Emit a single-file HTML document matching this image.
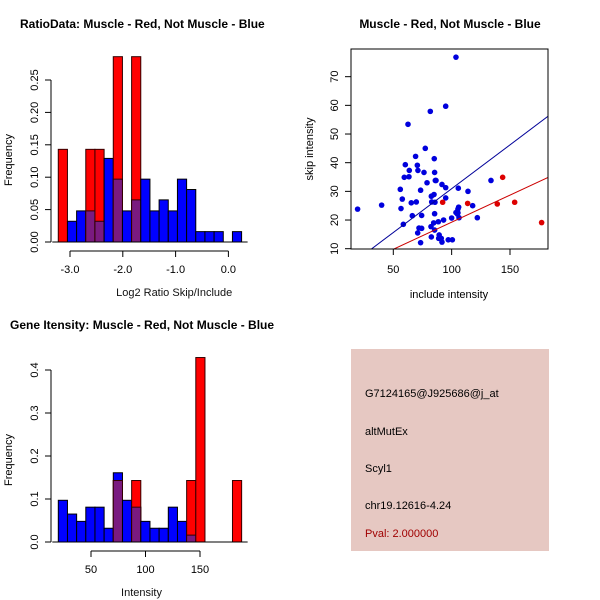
<!DOCTYPE html>
<html><head><meta charset="utf-8"><style>
html,body{margin:0;padding:0;background:#fff;}
svg{display:block;font-family:"Liberation Sans",sans-serif;}
</style></head><body>
<svg id="c" width="600" height="600" xmlns="http://www.w3.org/2000/svg">
<rect x="351" y="349" width="198" height="202" fill="#e6c8c2"/>
<text x="365" y="397" font-size="11">G7124165@J925686@j_at</text>
<text x="365" y="435" font-size="11">altMutEx</text>
<text x="365" y="472" font-size="11">Scyl1</text>
<text x="365" y="509" font-size="11">chr19.12616-4.24</text>
<text x="365" y="537" font-size="11" fill="#a00000">Pval: 2.000000</text>
</svg>
<script>
// Histogram 1 data (ratio)
const h1Start=-3.222, h1Width=0.1736;
const h1Blue=[0,0.032,0.048,0.048,0.032,0.129,0.097,0.048,0.065,0.097,0.048,0.065,0.048,0.097,0.081,0.016,0.016,0.016,0,0.016];
const h1Red=[0.143,0,0,0.143,0.143,0,0.286,0,0.286,0,0,0,0,0,0,0,0,0,0,0];
const h1XTicks=[-3.0,-2.0,-1.0,0.0];
const h1XLabels=["-3.0","-2.0","-1.0","0.0"];
const h1YTicks=[0,0.05,0.10,0.15,0.20,0.25];
const h1YLabels=["0.00","0.05","0.10","0.15","0.20","0.25"];
// Histogram 3 data (intensity)
const h3Start=20, h3Width=8.41;
const h3Blue=[0.097,0.065,0.048,0.081,0.081,0.032,0.161,0.097,0.081,0.048,0.032,0.032,0.081,0.048,0.016,0,0,0,0,0];
const h3Red=[0,0,0,0,0,0,0.143,0,0.143,0,0,0,0,0,0.143,0.429,0,0,0,0.143];
const h3XTicks=[50,100,150];
const h3YTicks=[0,0.1,0.2,0.3,0.4];
const h3YLabels=["0.0","0.1","0.2","0.3","0.4"];
// Scatter data
const blueX=[19.4,40,103.7,94.9,81.7,62.6,77.4,69.1,85.1,60.3,70.6,63.7,71.1,76.3,85.4,59.4,63.4,78.9,91.7,94.9,56,73.4,114,105.7,133.7,86,86.6,94.9,82.6,84.9,57.7,85.7,65.4,69.7,82.9,106,118,122,105.4,105.4,104.9,103.7,56.6,85.4,66.3,74.3,100,106.3,93.1,88.6,84.6,58.6,82.3,72,74.3,85.4,70.9,89.3,82.6,88.9,97.1,91.1,100.6,91.7,73.4];
const blueY=[23.8,25.2,76.8,59.7,57.9,53.4,45,42.2,41.4,39.3,39.1,37.3,37.3,36.6,36.6,34.9,35.1,33,32.4,31.3,30.7,30.4,30,31.1,33.8,33.8,33.8,27.7,28.3,28.9,27.3,26.2,26,26.3,26.3,24.5,25,20.8,23.8,22.5,22.1,22.6,24,22.2,21.5,21.6,20.7,20.8,20,19.4,19,18.5,17.7,17.2,17.1,16.5,15.5,14.8,14.1,13.6,13.1,13.6,13.1,12.3,12.1];
const redX=[92.3,113.7,139.1,154,143.7,177.1];
const redY=[26.2,25.8,25.6,26.2,34.9,19.1];
const fitBlue=[0.33,0.306]; // intercept, slope
const fitRed=[0.35,0.189];
const scXTicks=[50,100,150];
const scYTicks=[10,20,30,40,50,60,70];

const svg=document.getElementById('c');
const NS='http://www.w3.org/2000/svg';
function mk(tag,attrs,parent){const e=document.createElementNS(NS,tag);for(const k in attrs)e.setAttribute(k,attrs[k]);(parent||svg).appendChild(e);return e;}
function txt(x,y,s,attrs){const e=mk('text',Object.assign({x:x,y:y,'font-size':11},attrs||{}));e.textContent=s;return e;}

function histogram(cfg){
  const g=mk('g',{});
  
  
  const sx=v=>cfg.x0px+(v-cfg.x0)*cfg.xs, sy=v=>cfg.y0px-v*cfg.ys;
  for(let i=0;i<cfg.blue.length;i++){
    const xa=sx(cfg.start+i*cfg.width), xb=sx(cfg.start+(i+1)*cfg.width);
    const b=cfg.blue[i], r=cfg.red[i];
    if(b>0){const e=mk('rect',{x:xa,y:sy(b),width:xb-xa,height:sy(0)-sy(b),fill:'#0000ff',stroke:'#000','stroke-width':1},g);
      }
    if(r>0){const e=mk('rect',{x:xa,y:sy(r),width:xb-xa,height:sy(0)-sy(r),fill:'#ff0000',stroke:'#300','stroke-width':1},g);
      }
    const m=Math.min(b,r);
    if(m>0){const e=mk('rect',{x:xa,y:sy(m),width:xb-xa,height:sy(0)-sy(m),fill:'#7a1a80',stroke:'#300','stroke-width':1},g);
      }
  }
  const left=sx(cfg.start), right=sx(cfg.start+cfg.blue.length*cfg.width);
  mk('line',{x1:left-6,x2:right+6,y1:sy(0),y2:sy(0),stroke:'#000'},g);
  const ya=mk('g',{},g);
  
  mk('line',{x1:51,x2:51,y1:sy(cfg.yT[0]),y2:sy(cfg.yT[cfg.yT.length-1]),stroke:'#000'},ya);
  cfg.yT.forEach((v,i)=>{mk('line',{x1:45,x2:51,y1:sy(v),y2:sy(v),stroke:'#000'},ya);
    const t=txt(38,sy(v),cfg.yL[i],{transform:`rotate(-90 38 ${sy(v)})`,'text-anchor':'middle'});ya.appendChild(t);});
  const xa=mk('g',{},g);
  
  const ay=cfg.y0px+9;
  mk('line',{x1:sx(cfg.xT[0]),x2:sx(cfg.xT[cfg.xT.length-1]),y1:ay,y2:ay,stroke:'#000'},xa);
  cfg.xT.forEach((v,i)=>{mk('line',{x1:sx(v),x2:sx(v),y1:ay,y2:ay+6,stroke:'#000'},xa);
    const t=txt(sx(v),ay+22,cfg.xL[i],{'text-anchor':'middle'});xa.appendChild(t);});
  const xt=txt(cfg.x0px+(sx(cfg.xT[cfg.xT.length-1])-cfg.x0px)/2+ (cfg.xtShift||0),cfg.y0px+54,cfg.xTitle,{'text-anchor':'middle',fill:'#111'});
  
  const cy=cfg.y0px-82;
  const yt=txt(12,cy,'Frequency',{transform:`rotate(-90 12 ${cy})`,'text-anchor':'middle'});
  
  const ti=txt(cfg.titleX,cfg.titleY,cfg.title,{'font-weight':'bold','font-size':12});
  
}

histogram({name:'ratio-histogram',start:h1Start,width:h1Width,blue:h1Blue,red:h1Red,
  x0:-3.0,x0px:70,xs:52.8,y0px:242,ys:648,xT:h1XTicks,xL:h1XLabels,yT:h1YTicks,yL:h1YLabels,
  xTitle:'Log2 Ratio Skip/Include',xtShift:25,title:'RatioData: Muscle - Red, Not Muscle - Blue',titleX:20,titleY:28});
histogram({name:'intensity-histogram',start:h3Start,width:h3Width,blue:h3Blue,red:h3Red,
  x0:50,x0px:91,xs:1.09,y0px:542,ys:430,xT:h3XTicks,xL:h3XTicks.map(String),yT:h3YTicks,yL:h3YLabels,
  xTitle:'Intensity',xtShift:-4,title:'Gene Itensity: Muscle - Red, Not Muscle - Blue',titleX:10,titleY:329});

(function(){
  const g=mk('g',{});
  
  const L=351,R=548,T=49,B=249;
  const sx=v=>393.3+(v-50)*1.167, sy=v=>248.7-(v-10)*2.867;
  const xmin=(L-393.3)/1.167+50, xmax=(R-393.3)/1.167+50;
  const cp=mk('clipPath',{id:'box'},g);mk('rect',{x:L,y:T,width:R-L,height:B-T},cp);
  blueX.forEach((x,i)=>{const c=mk('circle',{cx:sx(x),cy:sy(blueY[i]),r:2.8,fill:'#0000dd'},g);
    });
  redX.forEach((x,i)=>{const c=mk('circle',{cx:sx(x),cy:sy(redY[i]),r:2.8,fill:'#dd0000'},g);
    });
  [[fitBlue,'#000099','blue-fit-line'],[fitRed,'#cc0000','red-fit-line']].forEach(([f,col,nm])=>{
    const l=mk('line',{x1:sx(xmin),y1:sy(f[0]+f[1]*xmin),x2:sx(xmax),y2:sy(f[0]+f[1]*xmax),stroke:col,'clip-path':'url(#box)'},g);
    });
  mk('rect',{x:L,y:T,width:R-L,height:B-T,fill:'none',stroke:'#000'},g);
  const xa=mk('g',{},g);
  scXTicks.forEach(v=>{mk('line',{x1:sx(v),x2:sx(v),y1:B,y2:B+6,stroke:'#000'},xa);
    const t=txt(sx(v),B+24,String(v),{'text-anchor':'middle'});xa.appendChild(t);});
  const ya=mk('g',{},g);
  scYTicks.forEach(v=>{mk('line',{x1:L-6,x2:L,y1:sy(v),y2:sy(v),stroke:'#000'},ya);
    const t=txt(338,sy(v),String(v),{transform:`rotate(-90 338 ${sy(v)})`,'text-anchor':'middle'});ya.appendChild(t);});
  const xt=txt(449,298,'include intensity',{'text-anchor':'middle'});
  
  const yt=txt(313,149,'skip intensity',{transform:'rotate(-90 313 149)','text-anchor':'middle'});
  
  const ti=txt(450,28,'Muscle - Red, Not Muscle - Blue',{'text-anchor':'middle','font-weight':'bold','font-size':12});
  
})();
</script>
</body></html>
